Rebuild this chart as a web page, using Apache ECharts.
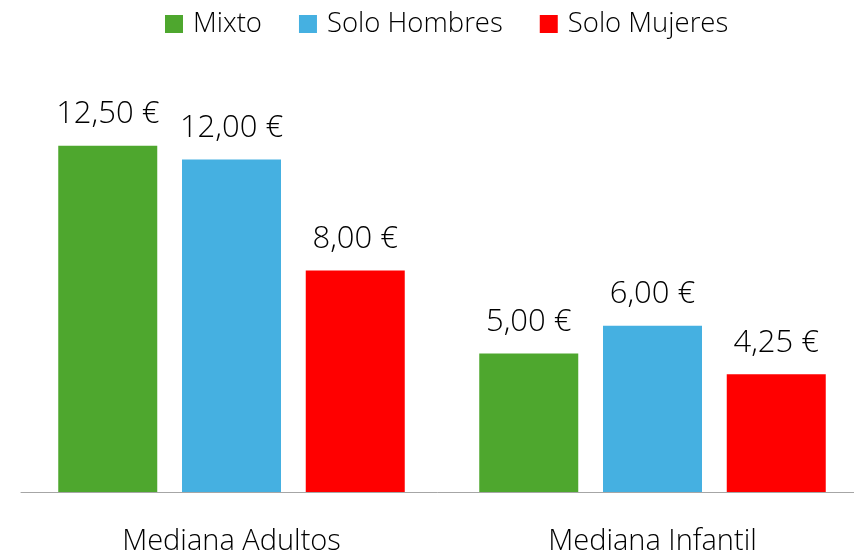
<!DOCTYPE html>
<html>
<head>
<meta charset="utf-8">
<script src="https://cdn.jsdelivr.net/npm/echarts@6/dist/echarts.min.js"></script>
<style>
  html, body { margin: 0; padding: 0; background: #fff; }
  #chart { width: 854px; height: 554px; }
</style>
</head>
<body>
<div id="chart"></div>
<script>
// Median prices by group type
const categories = ['Mediana Adultos', 'Mediana Infantil'];
const seriesNames = ['Mixto', 'Solo Hombres', 'Solo Mujeres'];
const mixto = [12.5, 5.0];
const soloHombres = [12.0, 6.0];
const soloMujeres = [8.0, 4.25];
const colors = ['#4EA72E', '#45B0E1', '#FF0000'];

const FONT = '"Open Sans", sans-serif';

function euro(v) {
  return v.toFixed(2).replace('.', ',') + ' €';
}

const chart = echarts.init(document.getElementById('chart'), null, { renderer: 'canvas' });

const values = [mixto, soloHombres, soloMujeres];

chart.setOption({
  animation: false,
  color: colors,
  legend: {
    top: 5,
    left: 160,
    itemWidth: 18,
    itemHeight: 18,
    itemGap: 37,
    icon: 'rect',
    textStyle: { fontFamily: FONT, fontSize: 27.5, fontWeight: 300, color: '#000', padding: [0, 0, 0, 5] },
    data: seriesNames
  },
  // plot area runs past the right edge of the canvas
  grid: { left: 21, right: -9, top: 76.5, bottom: 62, containLabel: false, outerBoundsMode: 'none' },
  xAxis: {
    type: 'category',
    data: categories,
    axisLine: { show: true, lineStyle: { color: '#A6A6A6', width: 1 } },
    axisTick: { show: false },
    axisLabel: { fontFamily: FONT, fontSize: 29, fontWeight: 300, color: '#000', margin: 35 }
  },
  yAxis: {
    type: 'value',
    min: 0,
    max: 15,
    show: false,
    splitLine: { show: false }
  },
  series: seriesNames.map((name, i) => ({
    name: name,
    type: 'bar',
    data: values[i],
    barWidth: 99,
    barGap: '25%',
    label: {
      show: true,
      position: 'top',
      distance: 16,
      formatter: p => euro(p.value),
      fontFamily: FONT,
      fontSize: 31,
      fontWeight: 300,
      color: '#000'
    }
  }))
});
</script>
</body>
</html>
